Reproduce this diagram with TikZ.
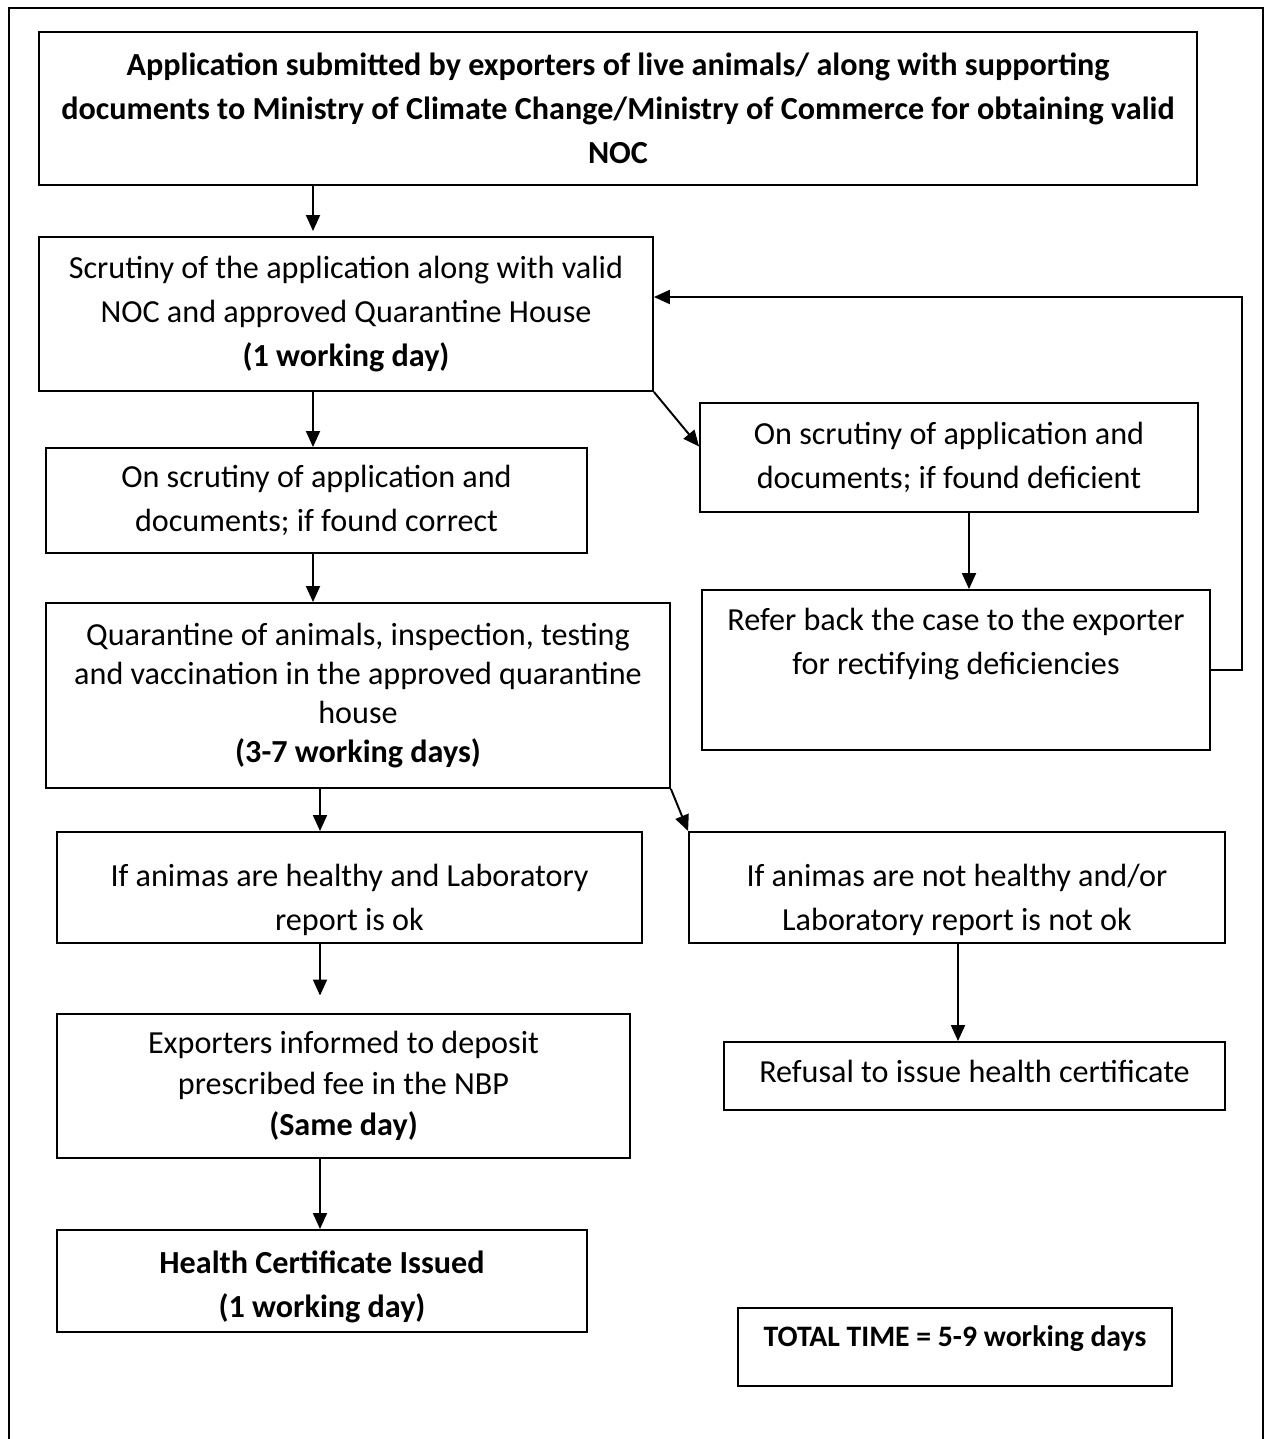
\documentclass[tikz,border=0pt]{standalone}
\usepackage{fontspec}
\setmainfont{Carlito}
\usetikzlibrary{arrows.meta, calc}

% extra room above the first line of a box
\newcommand{\topgap}[1]{\rule{0pt}{#1}}

\tikzset{
  box/.style={draw, line width=1.1pt, align=center, inner sep=0pt,
    font=\fontsize{18.3}{25}\selectfont},
  tight/.style={font=\fontsize{18.3}{22.3}\selectfont},
  arr/.style={-{Triangle[length=0.32cm,width=0.28cm]}, line width=1.1pt},
}

\begin{document}
\begin{tikzpicture}[x=0.02cm, y=-0.02cm]
\useasboundingbox (0,0) rectangle (1265,1439);
% page frame, open at the bottom
\draw[line width=1.1pt] (9,1460) -- (9,8) -- (1263,8) -- (1263,1460);

% boxes
\node[box, minimum width=23.16cm, minimum height=3.06cm] (top) at (618,108.5)
  {\bfseries Application submitted by exporters of live animals/ along with supporting\\
   \bfseries documents to Ministry of Climate Change/Ministry of Commerce for obtaining valid\\
   \bfseries NOC};
\node[box, minimum width=12.28cm, minimum height=3.08cm] (scr) at (346,314)
  {Scrutiny of the application along with valid\\NOC and approved Quarantine House\\
   \textbf{(1 working day)}};
\node[box, minimum width=10.82cm, minimum height=2.1cm] (ok1) at (316.5,500.5)
  {On scrutiny of application and\\documents; if found correct};
\node[box, minimum width=9.96cm, minimum height=2.18cm] (def) at (949,457.5)
  {On scrutiny of application and\\documents; if found deficient};
\node[box, minimum width=10.16cm, minimum height=3.2cm] (refer) at (956,670)
  {Refer back the case to the exporter\\for rectifying deficiencies\\ \strut};
\node[box, tight, minimum width=12.48cm, minimum height=3.7cm] (quar) at (358,695.5)
  {Quarantine of animals, inspection, testing\\and vaccination in the approved quarantine\\house\\
   \textbf{(3-7 working days)}};
\node[box, minimum width=11.7cm, minimum height=2.22cm] (healthy) at (349.5,887.5)
  {\topgap{0.93cm}If animas are healthy and Laboratory\\report is ok};
\node[box, minimum width=10.72cm, minimum height=2.22cm] (nothealthy) at (957,887.5)
  {\topgap{0.93cm}If animas are not healthy and/or\\Laboratory report is not ok};
\node[box, font=\fontsize{18.3}{23.2}\selectfont, minimum width=11.46cm, minimum height=2.88cm] (fee) at (343.5,1086)
  {Exporters informed to deposit\\prescribed fee in the NBP\\\textbf{(Same day)}};
\node[box, minimum width=10.02cm, minimum height=1.36cm, text depth=0.2cm] (refuse) at (974.5,1076)
  {Refusal to issue health certificate};
\node[box, minimum width=10.6cm, minimum height=2.04cm] (cert) at (322,1281)
  {\topgap{0.7cm}\bfseries Health Certificate Issued\\\bfseries (1 working day)};
\node[box, font=\fontsize{16.9}{22}\selectfont, minimum width=8.68cm, minimum height=1.56cm, text depth=0.42cm] (total) at (955,1347)
  {\bfseries TOTAL TIME = 5-9 working days};

% columns of the arrows
\coordinate (colA) at (313,0);
\coordinate (colB) at (320,0);
\coordinate (colC) at (969,0);
\coordinate (colD) at (958,0);
\coordinate (loop) at (1242,297);

% connectors
\draw[arr, shorten >=0.1cm] (top.south -| colA) -- (scr.north -| colA);
\draw[arr] (scr.south -| colA) -- (ok1.north -| colA);
\draw[arr] (scr.south east) -- ([yshift=0.22cm]def.west);
\draw[arr] (def.south -| colC) -- (refer.north -| colC);
\draw[arr] (refer.east) -| (loop) -- (scr.east |- loop);
\draw[arr] (ok1.south -| colA) -- (quar.north -| colA);
\draw[arr] (quar.south -| colB) -- (healthy.north -| colB);
\draw[arr] (quar.south east) -- (nothealthy.north west);
\draw[arr, shorten >=0.35cm] (healthy.south -| colB) -- (fee.north -| colB);
\draw[arr] (nothealthy.south -| colD) -- (refuse.north -| colD);
\draw[arr] (fee.south -| colB) -- (cert.north -| colB);
\end{tikzpicture}
\end{document}
